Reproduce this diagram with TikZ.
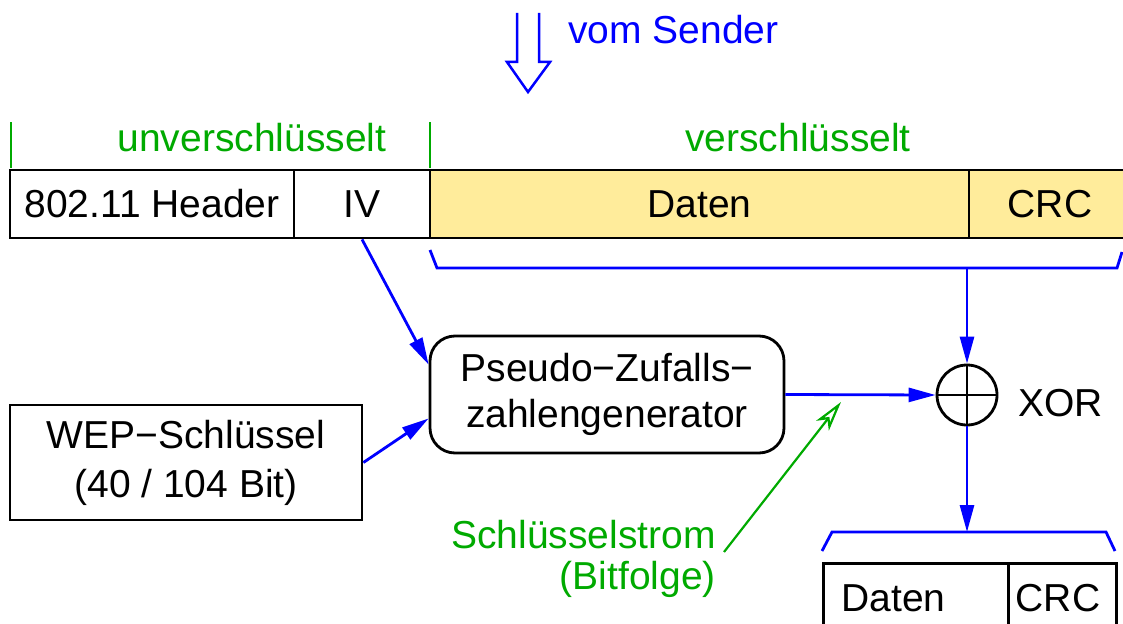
\documentclass[tikz,border=0pt]{standalone}
\usepackage{fontspec}
\setmainfont{Liberation Sans}
\usetikzlibrary{arrows.meta,calc}
\definecolor{myblue}{RGB}{0,0,255}
\definecolor{mygreen}{RGB}{0,170,0}
\definecolor{myyellow}{RGB}{255,236,155}
\begin{document}
\begin{tikzpicture}[x=1pt,y=-1pt,
  font=\fontsize{39}{46}\selectfont,
  box/.style={draw=black,line width=2.8pt,inner sep=0pt,minimum height=68pt},
  blk/.style={draw=black,line width=2.8pt},
  bl/.style={draw=myblue,line width=2.8pt},
  blarrow/.style={bl,-{Triangle[length=27pt,width=14pt]}},
  grn/.style={draw=mygreen,line width=2.2pt},
  lab/.style={inner sep=0pt}]
\useasboundingbox (0,0) rectangle (1123,623);
% top hollow arrow
\draw[myblue,line width=2.5pt,line join=miter]
  (517,13) -- (517,62) -- (507,62) -- (528,92) -- (550,62) -- (539,62) -- (539,13);
\node[lab,text=myblue,anchor=west] (sender) at (568,30) {vom Sender};
% green ticks and labels
\draw[grn] (11,122) -- (11,168);
\draw[grn] (430,122) -- (430,168);
\node[lab,text=mygreen] (unv) at (252,138) {unverschlüsselt};
\node[lab,text=mygreen] (ver) at (798,138) {verschlüsselt};
% frame
\node[box,fill=myyellow,minimum width=539pt] (daten) at (699.5,204) {Daten};
\node[box,fill=myyellow,minimum width=162pt] (crc) at (1050,204) {CRC};
\node[box,minimum width=284pt] (hdr) at (152,204) {802.11 Header};
\node[box,minimum width=136pt] (iv) at (362,204) {IV};
% top brace
\coordinate (b1) at (430,250);
\coordinate (b2) at (437,268);
\coordinate (bm) at (967,268);
\coordinate (b3) at (1117,268);
\coordinate (b4) at (1122,252);
\draw[bl,line join=miter] (b1) -- (b2) -- (b3) -- (b4);
% PRNG
\node[blk,rounded corners=25pt,minimum width=354pt,minimum height=117pt,align=center,inner sep=0pt] (prng) at (607,394.5) {Pseudo−Zufalls−\\zahlengenerator};
% WEP key
\node[blk,minimum width=352pt,minimum height=115pt,align=center,inner sep=0pt,font=\fontsize{39}{49}\selectfont] (wep) at (186,462.5) {WEP−Schlüssel\\(40 / 104 Bit)};
% XOR
\node[draw=black,line width=2.8pt,circle,minimum size=60pt,inner sep=0pt] (xor) at (967,395) {};
\draw[black,line width=2.8pt] (xor.north) -- (xor.south) (xor.west) -- (xor.east);
\node[lab,anchor=west] (xorlab) at (1018,403) {XOR};
% arrows
\draw[blarrow] (iv.south) -- ($(prng.north west)!0.25!(prng.south west)$);
\draw[blarrow] (wep.east) -- ($(prng.north west)!0.7!(prng.south west)$);
\draw[blarrow] (bm) -- (xor.north);
\draw[blarrow] (prng.east) -- (xor.west);
\coordinate (c2) at (967,532);
\draw[blarrow] (xor.south) -- (c2);
% bottom brace
\coordinate (c1) at (822,551);
\coordinate (c1b) at (832,532);
\coordinate (c3) at (1106,532);
\coordinate (c4) at (1115,551);
\draw[bl,line join=miter] (c1) -- (c1b) -- (c3) -- (c4);
% bottom frame
\node[blk,minimum width=185pt,minimum height=90pt,anchor=north west,inner sep=0pt] (d2) at (822,562) {};
\node[blk,minimum width=108pt,minimum height=90pt,anchor=north west,inner sep=0pt] (crc2) at (1007,562) {};
\node[lab] (d2t) at (893.5,598) {Daten};
\node[lab] (crc2t) at (1058,598) {CRC};
% key stream
\coordinate (gs) at (724,552);
\coordinate (ge) at (841,402);
\draw[grn,-{Stealth[open,length=30pt,width=16pt,inset=8pt]}] (gs) -- (ge);
\node[lab,text=mygreen,align=right,anchor=east,font=\fontsize{39}{41}\selectfont] (ks) at (716,559) {Schlüsselstrom\\(Bitfolge)};
\end{tikzpicture}
\end{document}
